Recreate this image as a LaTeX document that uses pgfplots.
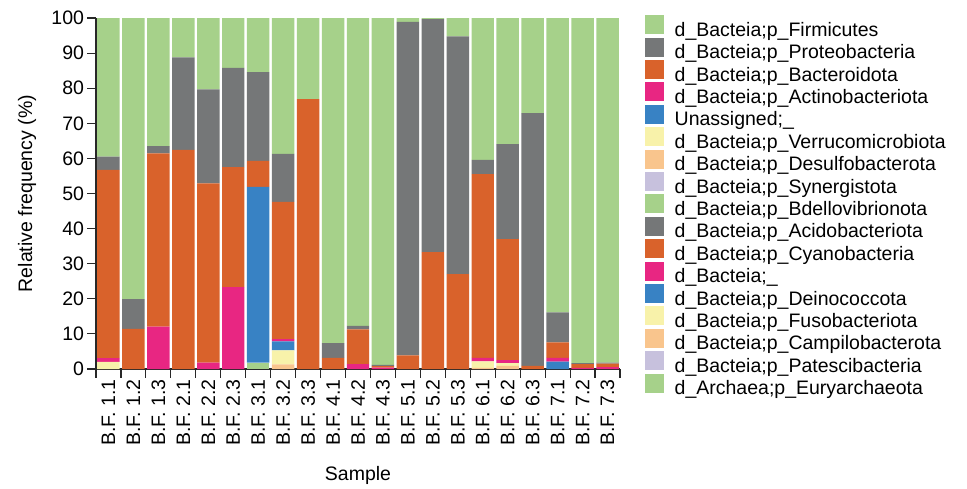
\documentclass[border=0pt]{standalone}
\usepackage{fontspec}
\setmainfont{Liberation Sans}
\usepackage{pgfplots}
\pgfplotsset{compat=1.18}
\usepackage{pgfplotstable}

\definecolor{cgreen}{RGB}{166,209,138}
\definecolor{cgrey}{RGB}{117,119,120}
\definecolor{corange}{RGB}{217,98,43}
\definecolor{cpink}{RGB}{232,38,130}
\definecolor{cblue}{RGB}{56,130,196}
\definecolor{cyellow}{RGB}{248,242,170}
\definecolor{cpeach}{RGB}{249,197,141}
\definecolor{clav}{RGB}{199,193,221}
\definecolor{caxis}{RGB}{40,40,40}

\pgfplotstableread{
x  Eury Desulfo Verru Unass Actino Bactero Proteo Firmi Z
0  0    0       2.0   0     1.1    53.6    3.8    39.5  0
1  0    0       0     0     0      11.4    8.5    80.1  0
2  0    0       0     0     12.1   49.3    2.1    36.5  0
3  0    0       0     0     0      62.4    26.4   11.2  0
4  0    0       0     0     1.8    51.1    26.8   20.3  0
5  0    0       0     0     23.3   34.2    28.3   14.2  0
6  1.8  0       0     50.1  0      7.4     25.3   15.4  0
7  0    1.3     4.0   2.6   0.6    39.1    13.7   38.7  0
8  0    0       0     0     0      76.9    0      23.1  0
9  0    0       0     0     0      3.2     4.2    92.6  0
10 0    0       0     0     1.4    9.9     1.0    87.7  0
11 0    0       0     0     0.4    0.4     0.4    98.8  0
12 0    0       0     0     0      3.9     95.0   1.1   0
13 0    0       0     0     0      33.3    66.4   0.3   0
14 0    0       0     0     0      27.0    67.8   5.2   0
15 0    0.3     1.9   0     1.0    52.3    4.1    40.4  0
16 0    0.9     0.8   0     0.8    34.5    27.1   35.9  0
17 0    0       0     0     0      0.9     72.0   27.1  0
18 0    0       0     2.1   1.1    4.4     8.5    83.9  0
19 0    0       0     0     0.3    1.1     0.3    98.3  0
20 0    0       0     0     0.5    1.0     0.3    98.2  0
}\data

\newcommand{\txt}{\fontsize{19.5}{22}\selectfont}

\begin{document}
\begin{tikzpicture}
\path[use as bounding box] (-96pt,-119pt) rectangle (871pt,369pt);
\begin{axis}[
  width=524pt, height=351pt, scale only axis,
  xmin=-0.5, xmax=20.5, ymin=0, ymax=100,
  ybar stacked, bar width=0.9,
  axis x line*=bottom, axis y line*=left,
  axis line style={caxis, line width=1.2pt},
  every tick/.style={caxis, line width=1.1pt},
  tick align=outside,
  major tick length=8.5pt,
  ytick={0,10,...,100},
  xtick={-0.5,0.5,...,20.5},
  xticklabels={},
  extra x ticks={0,1,...,20},
  extra x tick labels={B.F. 1.1,B.F. 1.2,B.F. 1.3,B.F. 2.1,B.F. 2.2,B.F. 2.3,B.F. 3.1,B.F. 3.2,B.F. 3.3,B.F. 4.1,B.F. 4.2,B.F. 4.3,B.F. 5.1,B.F. 5.2,B.F. 5.3,B.F. 6.1,B.F. 6.2,B.F. 6.3,B.F. 7.1,B.F. 7.2,B.F. 7.3},
  extra x tick style={major tick length=0pt, tick label style={yshift=-7pt, rotate=90, anchor=east}},
  tick label style={font=\txt},
  /pgf/number format/assume math mode=true,
  xlabel={Sample},
  ylabel={Relative frequency (\%)},
  every axis x label/.style={at={([yshift=-106pt]axis description cs:0.5,0)}, anchor=center, font=\txt},
  every axis y label/.style={at={([xshift=-69pt]axis description cs:0,0.5)}, anchor=center, rotate=90, font=\txt},
  reverse legend,
  legend style={at={([xshift=22pt,yshift=5pt]axis description cs:1,1)}, anchor=north west,
    draw=none, fill=none, font=\txt, row sep=-3.6pt,
    nodes={inner sep=0pt, text height=15pt, text depth=5pt}},
  legend cell align=left,
  /tikz/every odd column/.append style={column sep=10.5pt},
  legend image code/.code={\fill[#1] (0pt,-3pt) rectangle (19pt,16pt);},
]
\addplot[fill=cgreen, draw=none] table[x=x,y=Eury]{\data};
\addlegendentry{d\_Archaea;p\_Euryarchaeota}
\addplot[fill=clav, draw=none] table[x=x,y=Z]{\data};
\addlegendentry{d\_Bacteia;p\_Patescibacteria}
\addplot[fill=cpeach, draw=none] table[x=x,y=Z]{\data};
\addlegendentry{d\_Bacteia;p\_Campilobacterota}
\addplot[fill=cyellow, draw=none] table[x=x,y=Z]{\data};
\addlegendentry{d\_Bacteia;p\_Fusobacteriota}
\addplot[fill=cblue, draw=none] table[x=x,y=Z]{\data};
\addlegendentry{d\_Bacteia;p\_Deinococcota}
\addplot[fill=cpink, draw=none] table[x=x,y=Z]{\data};
\addlegendentry{d\_Bacteia;\_}
\addplot[fill=corange, draw=none] table[x=x,y=Z]{\data};
\addlegendentry{d\_Bacteia;p\_Cyanobacteria}
\addplot[fill=cgrey, draw=none] table[x=x,y=Z]{\data};
\addlegendentry{d\_Bacteia;p\_Acidobacteriota}
\addplot[fill=cgreen, draw=none] table[x=x,y=Z]{\data};
\addlegendentry{d\_Bacteia;p\_Bdellovibrionota}
\addplot[fill=clav, draw=none] table[x=x,y=Z]{\data};
\addlegendentry{d\_Bacteia;p\_Synergistota}
\addplot[fill=cpeach, draw=none] table[x=x,y=Desulfo]{\data};
\addlegendentry{d\_Bacteia;p\_Desulfobacterota}
\addplot[fill=cyellow, draw=none] table[x=x,y=Verru]{\data};
\addlegendentry{d\_Bacteia;p\_Verrucomicrobiota}
\addplot[fill=cblue, draw=none] table[x=x,y=Unass]{\data};
\addlegendentry{Unassigned;\_}
\addplot[fill=cpink, draw=none] table[x=x,y=Actino]{\data};
\addlegendentry{d\_Bacteia;p\_Actinobacteriota}
\addplot[fill=corange, draw=none] table[x=x,y=Bactero]{\data};
\addlegendentry{d\_Bacteia;p\_Bacteroidota}
\addplot[fill=cgrey, draw=none] table[x=x,y=Proteo]{\data};
\addlegendentry{d\_Bacteia;p\_Proteobacteria}
\addplot[fill=cgreen, draw=none] table[x=x,y=Firmi]{\data};
\addlegendentry{d\_Bacteia;p\_Firmicutes}
\end{axis}
\end{tikzpicture}
\end{document}
